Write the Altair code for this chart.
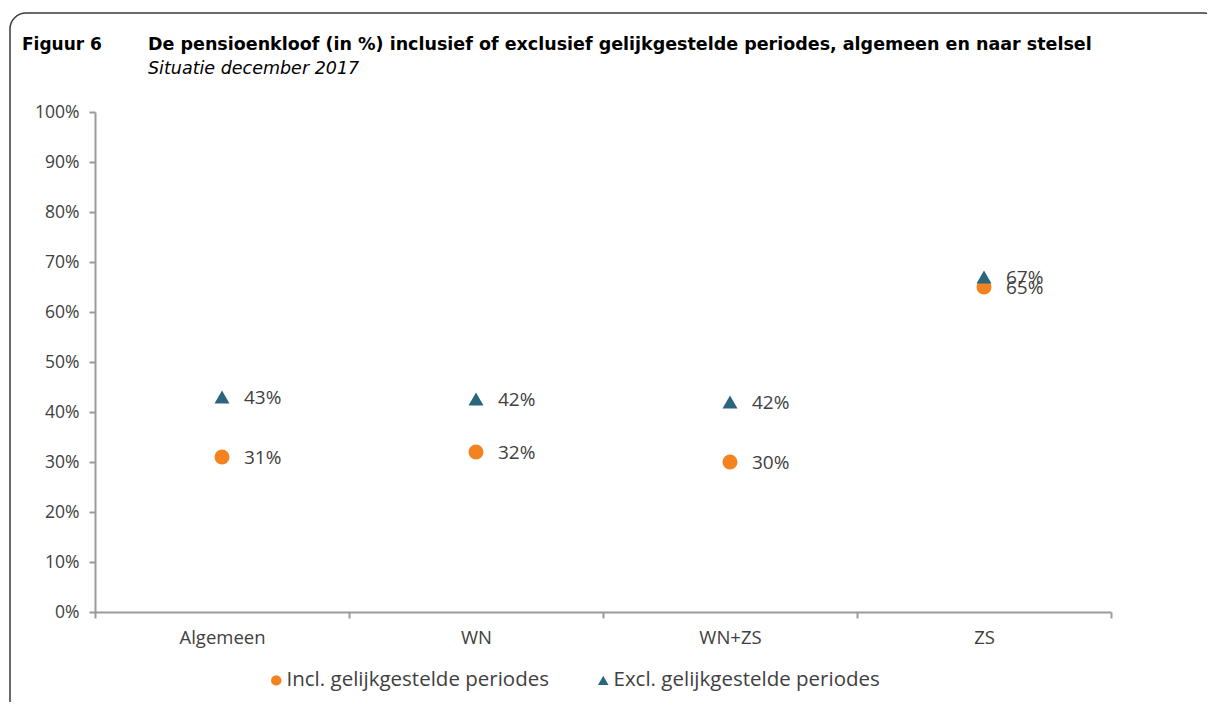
import altair as alt
import pandas as pd

categories = ["Algemeen", "WN", "WN+ZS", "ZS"]
series_names = ["Incl. gelijkgestelde periodes", "Excl. gelijkgestelde periodes"]
incl_values = [31, 32, 30, 65]
excl_values = [43, 42.6, 42, 67]
incl_labels = ["31%", "32%", "30%", "65%"]
excl_labels = ["43%", "42%", "42%", "67%"]
y_ticks = [0, 10, 20, 30, 40, 50, 60, 70, 80, 90, 100]

fig_label = "Figuur 6"
title_text = "De pensioenkloof (in %) inclusief of exclusief gelijkgestelde periodes, algemeen en naar stelsel"
subtitle_text = "Situatie december 2017"

rows = []
for c, v, l in zip(categories, incl_values, incl_labels):
    rows.append({"cat": c, "series": series_names[0], "value": v, "label": l})
for c, v, l in zip(categories, excl_values, excl_labels):
    rows.append({"cat": c, "series": series_names[1], "value": v, "label": l})
df = pd.DataFrame(rows)

W, H = 1016, 500
FONT = "Open Sans"
TXT = "#404040"
AX = "#9a9a9a"
ORANGE = "#F4821F"
TEAL = "#2B657E"

x_enc = alt.X("cat:N", sort=categories, title=None,
              scale=alt.Scale(paddingInner=0, paddingOuter=0),
              axis=alt.Axis(labelAngle=0, labelFontSize=18.5, labelFont=FONT, labelColor=TXT,
                            labelPadding=10, tickBand="extent", tickSize=6, tickColor=AX,
                            tickWidth=2, domainColor=AX, domainWidth=2, grid=False))
y_enc = alt.Y("value:Q", title=None,
              scale=alt.Scale(domain=[0, 100], nice=False),
              axis=alt.Axis(values=y_ticks, labelExpr="datum.value + '%'", labelFontSize=17.5,
                            labelFont=FONT, labelColor=TXT, labelPadding=10, tickSize=6,
                            tickColor=AX, tickWidth=2, domainColor=AX, domainWidth=2, grid=False))

base = alt.Chart(df)

points = base.mark_point(filled=True, opacity=1, size=225).encode(
    x=x_enc,
    y=y_enc,
    color=alt.Color("series:N", sort=series_names,
                    scale=alt.Scale(domain=series_names, range=[ORANGE, TEAL]),
                    legend=alt.Legend(title=None, orient="none", direction="horizontal",
                                      legendX=171, legendY=558, labelFont=FONT,
                                      labelFontSize=20.5, labelColor=TXT, symbolSize=110,
                                      labelOffset=0, columnPadding=44, symbolStrokeWidth=0,
                                      labelLimit=0)),
    shape=alt.Shape("series:N", sort=series_names,
                    scale=alt.Scale(domain=series_names, range=["circle", "triangle-up"])),
)

labels = base.mark_text(align="left", baseline="middle", dx=22, dy=1, fontSize=19,
                        font=FONT, color=TXT).encode(
    x=alt.X("cat:N", sort=categories),
    y=alt.Y("value:Q"),
    text="label:N",
)

border = alt.Chart(pd.DataFrame({"k": [0]})).mark_rect(
    fill=None, stroke="#3a3a3a", strokeWidth=1.5, cornerRadius=16
).encode(x=alt.value(-85), x2=alt.value(1125), y=alt.value(-99), y2=alt.value(640))

fig_txt = alt.Chart(pd.DataFrame({"t": [fig_label]})).mark_text(
    align="left", baseline="middle", fontSize=17, fontWeight="bold", font="DejaVu Sans", color="#000000"
).encode(x=alt.value(-73), y=alt.value(-67), text="t:N")

title_txt = alt.Chart(pd.DataFrame({"t": [title_text]})).mark_text(
    align="left", baseline="middle", fontSize=17.5, fontWeight="bold", font="DejaVu Sans", color="#000000"
).encode(x=alt.value(53), y=alt.value(-67), text="t:N")

sub_txt = alt.Chart(pd.DataFrame({"t": [subtitle_text]})).mark_text(
    align="left", baseline="middle", fontSize=17.5, fontStyle="italic", font="DejaVu Sans", color="#000000"
).encode(x=alt.value(53), y=alt.value(-43), text="t:N")

chart = alt.layer(border, points, labels, fig_txt, title_txt, sub_txt).properties(
    width=W, height=H,
    autosize=alt.AutoSizeParams(type="none"),
    padding={"left": 87, "top": 104, "right": 96, "bottom": 90},
).configure_view(stroke=None)

chart.save("out.html", embed_options={"renderer": "svg", "actions": False})
